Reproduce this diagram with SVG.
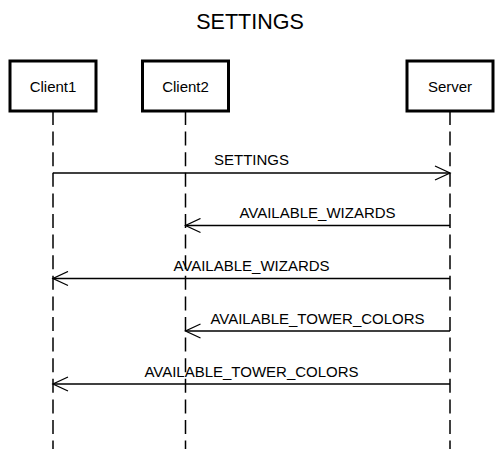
<svg xmlns="http://www.w3.org/2000/svg" width="501" height="449" viewBox="0 0 501 449">
<style>
  .box { fill: #fff; stroke: #000; stroke-width: 3; }
  .life { stroke: #000; stroke-width: 1.5; stroke-dasharray: 14 6.6; fill: none; }
  .msg { stroke: #000; stroke-width: 1.3; fill: none; marker-end: url(#arrow); }
  .lbl { font-family: "Liberation Sans", Arial, sans-serif; font-size: 15px; text-anchor: middle; fill: #000; }
  .title { font-family: "Liberation Sans", Arial, sans-serif; font-size: 21.5px; text-anchor: middle; fill: #000; }
</style>
<defs>
  <marker id="arrow" markerUnits="userSpaceOnUse" viewBox="-16 -8 18 16" refX="0" refY="0" markerWidth="18" markerHeight="16" orient="auto">
    <path d="M-15,-7 L0,0 L-15,7" fill="none" stroke="#000" stroke-width="1.3"/>
  </marker>
</defs>
<rect width="501" height="449" fill="#fff"/>
<text class="title" x="250" y="29">SETTINGS</text>
<g id="lifelines">
  <line class="life" x1="53" y1="111" x2="53" y2="449"/>
  <line class="life" x1="185.5" y1="111" x2="185.5" y2="449"/>
  <line class="life" x1="450" y1="111" x2="450" y2="449"/>
</g>
<g id="client1">
  <rect class="box" x="10" y="61" width="86" height="50"/>
  <text class="lbl" x="53" y="91.5">Client1</text>
</g>
<g id="client2">
  <rect class="box" x="142.5" y="61" width="86" height="50"/>
  <text class="lbl" x="185.5" y="91.5">Client2</text>
</g>
<g id="server">
  <rect class="box" x="407" y="61" width="86" height="50"/>
  <text class="lbl" x="450" y="91.5">Server</text>
</g>
<g id="connectors">
  <line class="msg" x1="53" y1="173" x2="450" y2="173"/>
  <text class="lbl" x="251.5" y="165">SETTINGS</text>
  <line class="msg" x1="450" y1="225.5" x2="185.5" y2="225.5"/>
  <text class="lbl" x="317.5" y="218">AVAILABLE_WIZARDS</text>
  <line class="msg" x1="450" y1="278.5" x2="53" y2="278.5"/>
  <text class="lbl" x="251.5" y="271">AVAILABLE_WIZARDS</text>
  <line class="msg" x1="450" y1="331" x2="185.5" y2="331"/>
  <text class="lbl" x="317.5" y="323.5">AVAILABLE_TOWER_COLORS</text>
  <line class="msg" x1="450" y1="384" x2="53" y2="384"/>
  <text class="lbl" x="251.5" y="376.5">AVAILABLE_TOWER_COLORS</text>
</g>
</svg>
